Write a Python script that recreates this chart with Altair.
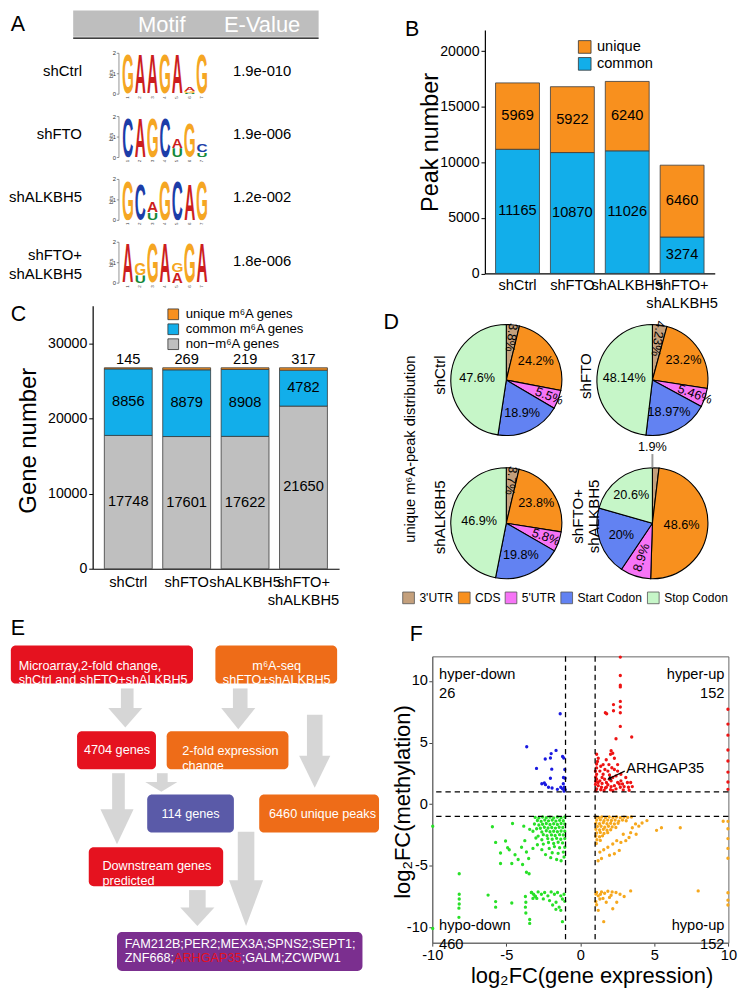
import base64
import altair as alt

S = 0.978


def s(v):
    return round(v * S, 3)


FONT = "Liberation Sans"

# ===================== values =====================
SAMPLES = ["shCtrl", "shFTO", "shALKBH5", "shFTO+shALKBH5"]

PEAK_TYPES = ["unique", "common"]
PEAK_UNIQUE = [5969, 5922, 6240, 6460]
PEAK_COMMON = [11165, 10870, 11026, 3274]
PEAK_TICKS = [0, 5000, 10000, 15000, 20000]

GENE_TYPES = ["unique m⁶A genes", "common m⁶A genes", "non−m⁶A genes"]
GENE_UNIQUE = [145, 269, 219, 317]
GENE_COMMON = [8856, 8879, 8908, 4782]
GENE_NON = [17748, 17601, 17622, 21650]
GENE_TICKS = [0, 10000, 20000, 30000]

MOTIF_ROWS = ["shCtrl", "shFTO", "shALKBH5", "shFTO+\nshALKBH5"]
MOTIF_EVALUES = ["1.9e-010", "1.9e-006", "1.2e-002", "1.8e-006"]
# letter stacks for each motif position, bottom -> top, (letter, bits)
MOTIF_SHCTRL = [[("G", 2.0)], [("A", 2.0)], [("A", 2.0)], [("G", 2.0)], [("A", 2.0)],
                [("U", 0.06), ("G", 0.1), ("A", 0.2)], [("G", 2.0)]]
MOTIF_SHFTO = [[("C", 2.0)], [("A", 2.0)], [("G", 2.0)], [("C", 2.0)],
               [("U", 0.45), ("A", 0.5)], [("G", 1.75)], [("U", 0.24), ("C", 0.43)]]
MOTIF_SHALKBH5 = [[("G", 2.0)], [("C", 1.8)], [("U", 0.38), ("A", 0.57)], [("G", 2.0)],
                  [("C", 2.0)], [("A", 1.85)], [("G", 2.0)]]
MOTIF_DOUBLE = [[("A", 2.0)], [("U", 0.38), ("G", 0.62)], [("G", 2.0)], [("A", 2.0)],
                [("A", 0.55), ("G", 0.45)], [("G", 2.0)], [("A", 2.0)]]
MOTIF_BITS_TICKS = [0, 1, 2]

REGIONS = ["3'UTR", "CDS", "5'UTR", "Start Codon", "Stop Codon"]
PIE_NAMES = ["shCtrl", "shFTO", "shALKBH5", "shFTO+\nshALKBH5"]
PIE_SHCTRL = [3.8, 24.2, 5.5, 18.9, 47.6]
PIE_SHFTO = [4.23, 23.2, 5.46, 18.97, 48.14]
PIE_SHALKBH5 = [3.7, 23.8, 5.8, 19.8, 46.9]
PIE_DOUBLE = [1.9, 48.6, 8.9, 20, 20.6]

FLOW_TEXTS = ["Microarray,2-fold change,\nshCtrl and shFTO+shALKBH5", "m⁶A-seq\nshFTO+shALKBH5",
              "4704 genes", "2-fold expression\nchange", "114 genes", "6460 unique peaks",
              "Downstream genes\npredicted"]
FLOW_GENES_1 = "FAM212B;PER2;MEX3A;SPNS2;SEPT1;"
FLOW_GENES_2 = ["ZNF668;", "ARHGAP35", ";GALM;ZCWPW1"]

QUADRANTS = ["hyper-down", "hyper-up", "hypo-down", "hypo-up"]
QUADRANT_COUNTS = [26, 152, 460, 152]
FC_THRESHOLDS = [-1, 1]
F_TICKS = [-10, -5, 0, 5, 10]
HYPER_DOWN = [(-1.36, 7.34), (-3.62, 4.66), (-1.97, 4.10), (-1.64, 4.36), (-2.37, 3.66), (-2.02, 3.74),
              (-1.20, 3.87), (-1.12, 3.75), (-2.96, 2.90), (-1.93, 2.84), (-1.05, 2.81), (-1.14, 2.16),
              (-1.03, 2.10), (-2.02, 2.10), (-2.43, 1.71), (-2.35, 1.58), (-2.15, 1.37), (-1.91, 1.31),
              (-1.32, 1.37), (-1.08, 1.37), (-1.02, 1.16), (-1.20, 1.24), (-1.55, 1.20), (-1.15, 1.65),
              (-2.60, 1.65), (-1.10, 1.05)]
HYPER_UP = [(2.70, 11.94), (2.70, 10.45), (2.70, 9.66), (2.70, 9.52), (2.24, 8.08), (2.70, 8.34), (2.70, 7.89),
            (1.69, 7.42), (1.78, 7.34), (2.24, 7.58), (2.70, 7.42), (2.70, 6.31), (3.47, 5.45), (2.41, 5.31),
            (2.08, 4.34), (2.04, 4.05), (2.19, 4.13), (1.10, 4.05), (1.16, 3.47), (1.10, 3.26), (1.75, 3.60),
            (2.30, 3.73), (1.93, 3.21), (2.13, 2.95), (1.66, 2.81), (1.32, 2.68), (2.30, 2.81), (2.52, 3.21),
            (1.02, 2.68), (1.10, 2.42), (1.54, 2.42), (1.97, 2.36), (2.41, 2.29), (2.74, 2.42), (3.07, 2.16),
            (1.10, 2.02), (1.32, 1.89), (1.64, 2.02), (2.08, 1.89), (2.52, 1.76), (2.85, 1.63), (3.25, 1.37),
            (3.51, 1.42), (1.02, 1.60), (1.21, 1.50), (1.47, 1.68), (1.86, 1.57), (2.30, 1.50), (2.70, 1.37),
            (2.96, 1.42), (1.10, 1.24), (1.38, 1.16), (1.69, 1.31), (2.04, 1.16), (2.41, 1.24), (1.10, 2.94),
            (1.38, 3.08), (1.20, 1.76), (1.76, 1.76), (2.19, 2.16), (1.47, 2.16), (1.86, 2.68), (2.52, 2.68),
            (2.74, 1.89), (3.18, 1.76), (1.54, 3.21), (1.21, 3.73), (1.76, 1.37), (1.43, 1.37), (1.04, 1.84),
            (1.04, 2.20), (1.97, 2.02), (2.63, 1.63), (3.40, 1.76), (2.08, 1.42), (1.05, 1.08), (1.60, 1.10),
            (2.20, 1.08), (2.90, 1.15), (3.30, 1.12), (9.97, 7.7), (9.97, 6.5), (9.97, 5.6), (9.97, 4.4),
            (9.97, 3.5), (9.97, 2.6), (9.97, 1.8), (9.97, 1.2)]
HYPO_DOWN = [(-1.05, -1.05), (-1.3, -1.1), (-1.55, -1.05), (-1.8, -1.12), (-2.05, -1.06), (-2.3, -1.1),
             (-2.55, -1.05), (-2.8, -1.12), (-3.05, -1.08), (-1.15, -1.35), (-1.4, -1.32), (-1.65, -1.38),
             (-1.9, -1.3), (-2.15, -1.36), (-2.4, -1.3), (-2.65, -1.4), (-2.9, -1.33), (-1.05, -1.62),
             (-1.3, -1.58), (-1.55, -1.65), (-1.8, -1.6), (-2.05, -1.66), (-2.3, -1.58), (-2.55, -1.64),
             (-2.8, -1.7), (-3.1, -1.62), (-1.18, -1.9), (-1.43, -1.88), (-1.68, -1.95), (-1.93, -1.9),
             (-2.18, -1.94), (-2.43, -1.88), (-2.7, -1.96), (-2.95, -2.0), (-1.05, -2.2), (-1.3, -2.18),
             (-1.55, -2.25), (-1.8, -2.2), (-2.05, -2.24), (-2.3, -2.16), (-2.6, -2.26), (-3.2, -2.2),
             (-1.15, -2.5), (-1.4, -2.48), (-1.7, -2.55), (-1.95, -2.5), (-2.25, -2.56), (-2.5, -2.48),
             (-2.85, -2.6), (-1.05, -2.8), (-1.32, -2.85), (-1.6, -2.78), (-1.9, -2.86), (-2.2, -2.8),
             (-2.6, -2.9), (-3.0, -2.75), (-1.2, -3.15), (-1.5, -3.1), (-1.8, -3.2), (-2.15, -3.12),
             (-2.5, -3.25), (-2.9, -3.3), (-1.05, -3.5), (-1.4, -3.55), (-1.75, -3.45), (-2.1, -3.6),
             (-2.6, -3.7), (-3.2, -3.6), (-1.15, -3.9), (-1.5, -4.0), (-1.9, -3.95), (-2.35, -4.1),
             (-1.1, -4.3), (-1.6, -4.5), (-2.0, -4.35), (-1.3, -4.6),
             (-5.94, -1.84), (-4.58, -1.58), (-5.72, -3.11), (-5.39, -3.97), (-4.91, -3.55), (-4.80, -3.71),
             (-4.41, -4.11), (-5.39, -4.82), (-4.63, -4.82), (-3.97, -3.50), (-3.82, -1.79), (-3.42, -2.05),
             (-3.75, -2.97), (-3.64, -3.89), (-3.49, -4.42), (-3.64, -5.53), (-3.46, -5.66), (-8.18, -5.66),
             (-8.18, -7.32), (-8.18, -7.71), (-8.18, -8.11), (-8.2, -8.45), (-8.2, -9.2), (-6.23, -7.39),
             (-5.72, -7.92), (-5.72, -8.37), (-4.63, -8.03), (-3.71, -7.50), (-3.68, -7.97), (-3.71, -8.37),
             (-3.68, -8.84), (-3.42, -9.37), (-3.42, -9.69), (-3.31, -7.18), (-3.16, -7.32), (-3.03, -7.50),
             (-2.94, -7.66), (-3.20, -7.66), (-9.97, -1.8), (-9.97, -10.1), (-4.2, -4.5), (-3.9, -4.9),
             (-5.05, -3.0), (-3.29, -7.18), (-3.07, -7.45), (-2.85, -7.13), (-2.63, -7.32), (-2.41, -7.18),
             (-2.19, -7.45), (-1.97, -7.13), (-1.75, -7.32), (-1.54, -7.18), (-1.32, -7.45), (-1.1, -7.32),
             (-2.08, -7.84), (-1.64, -7.97), (-1.21, -7.71), (-1.43, -8.37), (-1.65, -8.55), (-1.32, -8.63),
             (-1.21, -9.55), (-1.87, -8.2), (-2.5, -7.7), (-1.05, -7.9)]
HYPO_UP = [(1.05, -1.05), (1.25, -1.08), (1.45, -1.05), (1.7, -1.1), (1.95, -1.05), (2.2, -1.08),
           (2.45, -1.05), (2.7, -1.1), (2.95, -1.06), (3.2, -1.08), (3.45, -1.05), (1.1, -1.3), (1.35, -1.28),
           (1.6, -1.35), (1.85, -1.3), (2.1, -1.33), (2.35, -1.3), (2.6, -1.38), (2.85, -1.3), (3.1, -1.35),
           (1.05, -1.55), (1.3, -1.6), (1.55, -1.52), (1.8, -1.6), (2.05, -1.55), (2.3, -1.62), (2.55, -1.55),
           (1.15, -1.82), (1.4, -1.8), (1.65, -1.88), (1.9, -1.8), (2.15, -1.85), (2.4, -1.9), (1.05, -2.05),
           (1.3, -2.1), (1.55, -2.05), (1.8, -2.12), (2.05, -2.08), (1.1, -2.35), (1.35, -2.3), (1.6, -2.38),
           (1.85, -2.32), (1.05, -2.6), (1.3, -2.65), (1.5, -2.58), (1.12, -2.9), (1.35, -2.95), (1.08, -3.2),
           (4.50, -1.34), (5.15, -2.13), (5.48, -1.92), (6.75, -1.92), (9.65, -1.39), (3.95, -1.79),
           (3.77, -2.45), (3.40, -2.32), (3.29, -2.71), (3.07, -2.97), (2.74, -3.11), (2.63, -3.76),
           (2.30, -4.03), (1.97, -4.16), (1.43, -4.42), (1.32, -3.90), (1.58, -3.71), (1.86, -3.50),
           (2.19, -3.24), (2.46, -2.97), (3.51, -1.92), (4.17, -1.53), (2.90, -2.45), (3.73, -1.61),
           (1.2, -4.6), (1.10, -7.18), (1.21, -7.45), (1.43, -7.13), (1.64, -7.24), (1.86, -7.08),
           (2.15, -7.13), (2.41, -7.18), (2.68, -7.32), (2.96, -7.50), (3.40, -7.05), (1.32, -7.71),
           (1.53, -7.66), (1.97, -7.58), (2.46, -7.97), (2.19, -8.50), (1.21, -8.63), (1.05, -7.92),
           (1.10, -8.18), (1.75, -7.97), (1.58, -9.55), (7.96, -7.05), (1.36, -7.32), (2.08, -7.40),
           (1.05, -7.3), (9.97, -1.4), (9.97, -2.0), (9.97, -2.8), (9.97, -3.6), (9.97, -4.4),
           (9.97, -7.2), (9.97, -7.8), (9.97, -8.2)]
ARHGAP35_POINT = (1.95, 2.08)

# ===================== styles and layout =====================
ORANGE = "#F8901E"
BLUE = "#12AEEA"
GRAY = "#BFBFBF"
LETTER_COLORS = {"A": "#CC1E1E", "C": "#1C3DA8", "G": "#F5A623", "U": "#15893A"}
REGION_COLORS = ["#C4A07C", "#F8901E", "#F674F6", "#6282F2", "#C6F6C8"]
QUAD_COLORS = ["#1A1AE0", "#EE1414", "#28E028", "#F6A81E"]
FLOW_KINDS = ["red", "orange", "blue", "purple"]
FLOW_COLORS = ["#E5121F", "#EE6C18", "#5A5AA8", "#7B2F8F"]
ARROW_GRAY = "#D6D6D6"


def LX(field, dom):
    return alt.X(field, type="quantitative", scale=alt.Scale(domain=dom, nice=False, zero=False), axis=None)


def LY(field, dom):
    return alt.Y(field, type="quantitative",
                 scale=alt.Scale(domain=dom, nice=False, zero=False, reverse=True), axis=None)


def ltext(rows, dx, dy, size, align="left", color="black", angle=0, line_height=None):
    mk = dict(align=align, baseline="middle", fontSize=s(size), color=color, angle=angle, lineBreak="\n")
    if line_height:
        mk["lineHeight"] = s(line_height)
    return alt.Chart(alt.Data(values=rows)).mark_text(**mk).encode(
        x=LX("x", dx), y=LY("y", dy), text="t:N")


def lrules(rows, dx, dy, color="black", width=1.0):
    return alt.Chart(alt.Data(values=rows)).mark_rule(color=color, strokeWidth=width).encode(
        x=LX("x1", dx), x2=alt.X2("x2"), y=LY("y1", dy), y2=alt.Y2("y2"))


def lframe(x1, x2, y1, y2, dx, dy):
    # invisible rectangle covering the panel's share of the figure
    return alt.Chart(alt.Data(values=[{"x1": x1, "x2": x2, "y1": y1, "y2": y2}])).mark_rect(opacity=0).encode(
        x=LX("x1", dx), x2=alt.X2("x2"), y=LY("y1", dy), y2=alt.Y2("y2"))


def frame(x0, x1, y0, y1):
    return alt.Chart(alt.Data(values=[{"f": 0}])).mark_rect(opacity=0).encode(
        x=alt.value(s(x0)), x2=alt.value(s(x1)), y=alt.value(s(y0)), y2=alt.value(s(y1)))


def ptext(text, x, y, size, align="left", angle=0, color="black", line_height=None):
    mk = dict(align=align, baseline="middle", fontSize=s(size), angle=angle, color=color, lineBreak="\n")
    if line_height:
        mk["lineHeight"] = s(line_height)
    return alt.Chart(alt.Data(values=[{"t": text}])).mark_text(**mk).encode(
        x=alt.value(s(x)), y=alt.value(s(y)), text="t:N")


def letter_uri(ch, color):
    svg = ('<svg xmlns="http://www.w3.org/2000/svg" width="78" height="75" viewBox="-3 -73.5 78 75" '
           'preserveAspectRatio="none"><text x="36" y="0" text-anchor="middle" '
           'font-family="Liberation Sans, Arial, sans-serif" font-weight="bold" font-size="100" '
           f'fill="{color}">{ch}</text></svg>')
    return "data:image/svg+xml;base64," + base64.b64encode(svg.encode("utf-8")).decode("ascii")


# ----------------------------- panel A -----------------------------
# plot origin placed at figure (86, 20) so that it lines up with panels C (x) and B (y)
AXD, AYD = [86, 380], [20, 300]
LOGO_X0, LOGO_STEP, LOGO_W, BIT_PX = 116.0, 12.7, 12.3, 21.0
LOGO_BASES = [86, 151, 215.5, 280]
ROW_Y = [63, 128, 193, 252]
EVAL_Y = [63, 128, 193, 258]

logo_rows = []
for r, motif in enumerate([MOTIF_SHCTRL, MOTIF_SHFTO, MOTIF_SHALKBH5, MOTIF_DOUBLE]):
    for p, col in enumerate(motif):
        for o, (letter, bits) in enumerate(col):
            logo_rows.append({"row": r, "pos": p, "ord": o, "letter": letter, "bits": bits,
                              "url": letter_uri(letter, LETTER_COLORS[letter])})
base_expr = "[" + ",".join(str(b) for b in LOGO_BASES) + "][datum.row]"
a_logo = alt.Chart(alt.Data(values=logo_rows)).transform_window(
    cum="sum(bits)", groupby=["row", "pos"], sort=[alt.SortField("ord")], frame=[None, 0]
).transform_calculate(
    base=base_expr,
    lx1=f"{LOGO_X0} + {LOGO_STEP} * datum.pos",
    lx2=f"{LOGO_X0} + {LOGO_STEP} * datum.pos + {LOGO_W}",
).transform_calculate(
    ly1=f"datum.base - datum.cum * {BIT_PX}",
    ly2=f"datum.base - (datum.cum - datum.bits) * {BIT_PX}",
).mark_image(aspect=False).encode(
    x=LX("lx1", AXD), x2=alt.X2("lx2"), y=LY("ly1", AYD), y2=alt.Y2("ly2"), url=alt.Url("url:N"))

ax_rows, tk_rows, tl_rows, bits_rows, num_rows = [], [], [], [], []
for b in LOGO_BASES:
    ax_rows.append({"x1": 113, "x2": 113, "y1": b - 2 * BIT_PX, "y2": b})
    for k in MOTIF_BITS_TICKS:
        tk_rows.append({"x1": 110.8, "x2": 113, "y1": b - k * BIT_PX, "y2": b - k * BIT_PX})
        tl_rows.append({"x": 110, "y": b - k * BIT_PX, "t": str(k)})
    bits_rows.append({"x": 104.5, "y": b - BIT_PX, "t": "bits"})
    for p in range(7):
        num_rows.append({"x": LOGO_X0 + LOGO_STEP * p + LOGO_W / 2, "y": b + 3.5, "t": str(p + 1)})

panel_a = alt.layer(
    lframe(0, 380, 0, 300, AXD, AYD),
    alt.Chart(alt.Data(values=[{"x1": 66, "x2": 318, "y1": 0, "y2": 27}])).mark_rect(color="#BEBEBE").encode(
        x=LX("x1", AXD), x2=alt.X2("x2"), y=LY("y1", AYD), y2=alt.Y2("y2")),
    lrules([{"x1": 66, "x2": 318, "y1": 28.5, "y2": 28.5}], AXD, AYD, width=s(1.4)),
    ltext([{"x": 157, "y": 14.5, "t": "Motif"}, {"x": 260, "y": 14.5, "t": "E-Value"}], AXD, AYD, 22.5,
          align="center", color="white"),
    ltext([{"x": 2, "y": 15, "t": "A"}], AXD, AYD, 22),
    ltext([{"x": 75, "y": ROW_Y[i], "t": MOTIF_ROWS[i]} for i in range(4)], AXD, AYD, 15.3, align="right",
          line_height=20),
    ltext([{"x": 230, "y": EVAL_Y[i], "t": MOTIF_EVALUES[i]} for i in range(4)], AXD, AYD, 15.2),
    lrules(ax_rows, AXD, AYD, color="#666", width=0.7),
    lrules(tk_rows, AXD, AYD, color="#666", width=0.7),
    ltext(tl_rows, AXD, AYD, 6, align="right", color="#333"),
    ltext(bits_rows, AXD, AYD, 5.5, align="center", color="#333", angle=270),
    ltext(num_rows, AXD, AYD, 4.5, align="center", color="#333", angle=270),
    a_logo,
).properties(width=s(294), height=s(280))

# ----------------------------- panel B -----------------------------
# plot origin at figure (433, 20) so that it lines up with panel F; bars drawn in 487..723
b_rows = []
for i, smp in enumerate(SAMPLES):
    b_rows.append({"sample": smp, "type": "common", "value": PEAK_COMMON[i], "ord": 0})
    b_rows.append({"sample": smp, "type": "unique", "value": PEAK_UNIQUE[i], "ord": 1})
b_base = alt.Chart(alt.Data(values=b_rows)).transform_window(
    cum="sum(value)", groupby=["sample"], sort=[alt.SortField("ord")], frame=[None, 0]
).transform_calculate(lo="datum.cum - datum.value", mid="datum.cum - datum.value / 2")

LABEL_EXPR = "datum.label == 'shFTO+shALKBH5' ? ['shFTO+', 'shALKBH5'] : datum.label"
b_xscale = alt.Scale(range=[s(54), s(290)], paddingInner=0.2, paddingOuter=0.195)
b_yscale = alt.Scale(domain=[0, 21900], nice=False, zero=True)
B_XAXIS = alt.Axis(title=None, labelAngle=0, labelExpr=LABEL_EXPR, labelFontSize=s(15),
                   labelLineHeight=s(18), ticks=False, labelPadding=s(4.5), domainColor="black",
                   domainWidth=1.2)
B_YAXIS = alt.Axis(values=PEAK_TICKS, format="d", offset=-s(54), title="Peak number", titleFontSize=s(24),
                   titleX=s(-56), titleY=s(115), titleAngle=270, titleAlign="center", titleBaseline="middle",
                   labelFontSize=s(14.5), tickSize=s(4), labelPadding=s(2), grid=False,
                   domainColor="black", tickColor="black", domainWidth=1.2)
b_bars = b_base.mark_bar(stroke="#3a3a3a", strokeWidth=0.8).encode(
    x=alt.X("sample:N", sort=SAMPLES, scale=b_xscale, axis=B_XAXIS),
    y=alt.Y("lo:Q", scale=b_yscale, axis=B_YAXIS),
    y2="cum:Q",
    color=alt.Color("type:N", scale=alt.Scale(domain=PEAK_TYPES, range=[ORANGE, BLUE]),
                    legend=alt.Legend(orient="none", legendX=s(149), legendY=s(10), title=None,
                                      symbolType="square", symbolSize=s(13) ** 2, labelFontSize=s(15),
                                      symbolStrokeColor="#333", symbolStrokeWidth=0.8, rowPadding=0,
                                      labelOffset=s(5), padding=0)),
)
b_text = b_base.mark_text(fontSize=s(15), color="black").encode(
    x=alt.X("sample:N", sort=SAMPLES, scale=b_xscale, axis=B_XAXIS),
    y=alt.Y("mid:Q", scale=b_yscale, axis=B_YAXIS),
    text=alt.Text("value:Q", format="d"))
panel_b = alt.layer(
    frame(-53, 321, -20, 289), b_bars, b_text, ptext("B", -28, 0, 22)
).properties(width=s(290), height=s(250))

# ----------------------------- panel C -----------------------------
c_rows = []
for i, smp in enumerate(SAMPLES):
    c_rows.append({"sample": smp, "type": GENE_TYPES[2], "value": GENE_NON[i], "ord": 0})
    c_rows.append({"sample": smp, "type": GENE_TYPES[1], "value": GENE_COMMON[i], "ord": 1})
    c_rows.append({"sample": smp, "type": GENE_TYPES[0], "value": GENE_UNIQUE[i], "ord": 2})
c_base = alt.Chart(alt.Data(values=c_rows)).transform_window(
    cum="sum(value)", groupby=["sample"], sort=[alt.SortField("ord")], frame=[None, 0]
).transform_calculate(lo="datum.cum - datum.value", mid="datum.cum - datum.value / 2")
c_xscale = alt.Scale(paddingInner=0.18, paddingOuter=0.2)
c_yscale = alt.Scale(domain=[0, 35000], nice=False, zero=True)
C_XAXIS = alt.Axis(title=None, labelAngle=0, labelExpr=LABEL_EXPR, labelFontSize=s(15),
                   labelLineHeight=s(18), ticks=False, labelPadding=s(6), domainColor="black",
                   domainWidth=1.2)
C_YAXIS = alt.Axis(values=GENE_TICKS, format="d", title="Gene number", titleFontSize=s(24.5), titleX=s(-66),
                   titleY=s(138), titleAngle=270, titleAlign="center", titleBaseline="middle",
                   labelFontSize=s(14.5), tickSize=s(4), labelPadding=s(2), grid=False,
                   domainColor="black", tickColor="black", domainWidth=1.2)
c_bars = c_base.mark_bar(stroke="#3a3a3a", strokeWidth=0.8).encode(
    x=alt.X("sample:N", sort=SAMPLES, scale=c_xscale, axis=C_XAXIS),
    y=alt.Y("lo:Q", scale=c_yscale, axis=C_YAXIS),
    y2="cum:Q",
    color=alt.Color("type:N", scale=alt.Scale(domain=GENE_TYPES, range=[ORANGE, BLUE, GRAY]),
                    legend=alt.Legend(orient="none", legendX=s(76), legendY=s(2), title=None,
                                      symbolType="square", symbolSize=s(11) ** 2, labelFontSize=s(13.5),
                                      symbolStrokeColor="#333", symbolStrokeWidth=0.8, rowPadding=0,
                                      labelOffset=s(6), padding=0)),
)
c_text_mid = c_base.transform_filter("datum.ord < 2").mark_text(fontSize=s(15), color="black").encode(
    x=alt.X("sample:N", sort=SAMPLES, scale=c_xscale, axis=C_XAXIS),
    y=alt.Y("mid:Q", scale=c_yscale, axis=C_YAXIS),
    text=alt.Text("value:Q", format="d"))
c_text_top = c_base.transform_filter("datum.ord == 2").mark_text(
    fontSize=s(15), color="black", baseline="bottom", dy=-s(0.5)).encode(
    x=alt.X("sample:N", sort=SAMPLES, scale=c_xscale, axis=C_XAXIS),
    y=alt.Y("cum:Q", scale=c_yscale, axis=C_YAXIS),
    text=alt.Text("value:Q", format="d"))
panel_c = alt.layer(
    frame(-86, 294, -1, 311), c_bars, c_text_mid, c_text_top, ptext("C", -84, 9, 22)
).properties(width=s(253), height=s(270))

# ----------------------------- panel D -----------------------------
DXD, DYD = [433, 754], [309, 612]
PIE_CENTERS = [(509, 376), (659, 376), (509, 523), (659, 523)]
PIE_LABEL_POS = [
    [(44, 97), (36, 0), (47, 21), (38, 0), (30, 0)],
    [(43, 98), (38, 0), (46, 20), (37, 0), (29, 0)],
    [(44, 97), (37, 0), (43, 20), (36, 0), (28, 0)],
    [(None, 0), (30, 0), (37, 288), (34, 0), (36, 0)],
]
d_rows = []
for pi, vals in enumerate([PIE_SHCTRL, PIE_SHFTO, PIE_SHALKBH5, PIE_DOUBLE]):
    cx, cy = PIE_CENTERS[pi]
    for ri, (reg, v) in enumerate(zip(REGIONS, vals)):
        rr, ang = PIE_LABEL_POS[pi][ri]
        d_rows.append({"pie": pi, "region": reg, "ord": ri, "value": v, "cx": cx, "cy": cy,
                       "lbl": "" if rr is None else f"{v:g}%", "lr": s(rr or 0), "la": ang})
d_base = alt.Chart(alt.Data(values=d_rows)).transform_window(
    cum="sum(value)", groupby=["pie"], sort=[alt.SortField("ord")], frame=[None, 0]
).transform_calculate(start="datum.cum - datum.value", mid="datum.cum - datum.value / 2")
theta_scale = alt.Scale(domain=[0, 100], range=[0, 6.283185307179586])
d_arcs = d_base.mark_arc(radius=s(57), stroke="black", strokeWidth=1.1).encode(
    x=LX("cx", DXD), y=LY("cy", DYD),
    theta=alt.Theta("start:Q", scale=theta_scale, stack=None), theta2=alt.Theta2("cum:Q"),
    color=alt.Color("region:N", scale=alt.Scale(domain=REGIONS, range=REGION_COLORS),
                    legend=alt.Legend(orient="none", legendX=s(-31), legendY=s(284), direction="horizontal",
                                      columns=5, title=None, symbolType="square", symbolSize=s(12) ** 2,
                                      labelFontSize=s(12.4), labelOffset=s(4.5), columnPadding=s(3),
                                      labelLimit=120, symbolStrokeColor="#555", symbolStrokeWidth=0.8,
                                      padding=0)),
)
d_labels = d_base.mark_text(fontSize=s(13), color="black").encode(
    x=LX("cx", DXD), y=LY("cy", DYD),
    theta=alt.Theta("mid:Q", scale=theta_scale, stack=None),
    radius=alt.Radius("lr:Q", scale=None),
    angle=alt.Angle("la:Q", scale=None),
    text="lbl:N")
d_names = [{"x": 441, "y": 371, "t": PIE_NAMES[0]}, {"x": 591, "y": 372, "t": PIE_NAMES[1]},
           {"x": 441, "y": 517, "t": PIE_NAMES[2]}, {"x": 583, "y": 516, "t": PIE_NAMES[3]}]
panel_d = alt.layer(
    lframe(380, 754, 309, 612, DXD, DYD),
    d_arcs, d_labels,
    ltext(d_names, DXD, DYD, 15.5, align="center", angle=270, line_height=16),
    ltext([{"x": 411, "y": 447, "t": "unique m⁶A-peak distribution"}], DXD, DYD, 15, align="center",
          angle=270),
    ltext([{"x": 383, "y": 318, "t": "D"}], DXD, DYD, 22),
    lrules([{"x1": 659, "x2": 659, "y1": 452, "y2": 466}], DXD, DYD, color="#9A9A9A", width=s(2)),
    ltext([{"x": 659, "y": 445, "t": f"{PIE_DOUBLE[0]:g}%"}], DXD, DYD, 13, align="center"),
).properties(width=s(321), height=s(303))

# ----------------------------- panel E -----------------------------
EXD, EYD = [86, 380], [612, 999]
FLOW_BOXES = [("red", 2, 189, 649, 688), ("orange", 212, 337, 649, 688), ("red", 70, 151, 737, 776),
              ("orange", 162, 287, 737, 776), ("blue", 142, 231, 802, 841), ("orange", 257, 380, 802, 841),
              ("red", 82, 220, 856, 896), ("purple", 111, 363, 943, 983)]
FLOW_TEXT_POS = [(10, 669.5, "left"), (275, 669.5, "center"), (111, 756.5, "center"), (178, 757.5, "left"),
                 (186.5, 822, "center"), (322, 822, "center"), (96, 875.5, "left")]
FLOW_ARROWS = [(115, 128, 693, 714, 102, 137, 713, 733), (230, 245, 693, 714, 218, 253, 713, 735),
               (306, 322, 720, 763, 298, 330, 762, 795), (106, 119, 780, 818, 94, 128, 817, 853),
               (152, 163, 780, 790, 140, 173, 789, 799), (235, 252, 840, 891, 226, 261, 890, 937),
               (185, 202, 900, 919, 176, 211, 918, 937)]
shaft_rows = [{"x1": a[0], "x2": a[1], "y1": a[2], "y2": a[3]} for a in FLOW_ARROWS]
head_rows = []
for k, a in enumerate(FLOW_ARROWS):
    hx1, hx2, hy1, hy2 = a[4], a[5], a[6], a[7]
    head_rows += [{"a": k, "x": hx1, "t": hy1, "b": hy1}, {"a": k, "x": (hx1 + hx2) / 2, "t": hy1, "b": hy2},
                  {"a": k, "x": hx2, "t": hy1, "b": hy1}]
box_rows = [{"kind": b[0], "x1": b[1], "x2": b[2], "y1": b[3], "y2": b[4]} for b in FLOW_BOXES]
e_layers = [
    lframe(0, 380, 612, 999, EXD, EYD),
    alt.Chart(alt.Data(values=shaft_rows)).mark_rect(color=ARROW_GRAY).encode(
        x=LX("x1", EXD), x2=alt.X2("x2"), y=LY("y1", EYD), y2=alt.Y2("y2")),
    alt.Chart(alt.Data(values=head_rows)).mark_area(color=ARROW_GRAY).encode(
        x=LX("x", EXD), y=LY("t", EYD), y2=alt.Y2("b"), detail="a:N"),
    alt.Chart(alt.Data(values=box_rows)).mark_rect(cornerRadius=s(5)).encode(
        x=LX("x1", EXD), x2=alt.X2("x2"), y=LY("y1", EYD), y2=alt.Y2("y2"),
        color=alt.Color("kind:N", scale=alt.Scale(domain=FLOW_KINDS, range=FLOW_COLORS), legend=None)),
]
for align in ["left", "center"]:
    rows = [{"x": p[0], "y": p[1], "t": t} for t, p in zip(FLOW_TEXTS, FLOW_TEXT_POS) if p[2] == align]
    e_layers.append(ltext(rows, EXD, EYD, 13, align=align, color="white", line_height=15))
e_layers.append(ltext([{"x": 119, "y": 955, "t": FLOW_GENES_1}, {"x": 119, "y": 970, "t": FLOW_GENES_2[0]},
                       {"x": 239, "y": 970, "t": FLOW_GENES_2[2]}], EXD, EYD, 13, color="white"))
e_layers.append(ltext([{"x": 169.5, "y": 970, "t": FLOW_GENES_2[1]}], EXD, EYD, 13, color="#E5121F"))
e_layers.append(ltext([{"x": 2, "y": 632, "t": "E"}], EXD, EYD, 22))
panel_e = alt.layer(*e_layers).properties(width=s(294), height=s(387))

# ----------------------------- panel F -----------------------------
f_rows = []
for q, pts in zip(QUADRANTS, [HYPER_DOWN, HYPER_UP, HYPO_DOWN, HYPO_UP]):
    f_rows += [{"x": x, "y": y, "q": q} for x, y in pts]
FX = alt.Scale(domain=[-10, 10], nice=False, zero=False)
FY = alt.Scale(domain=[-11.26, 12], nice=False, zero=False)
F_XAXIS = alt.Axis(values=F_TICKS, title="log₂FC(gene expression)", titleFontSize=s(22.5),
                   titleX=s(163.5), titleY=s(33.5), titleAlign="center", titleBaseline="middle",
                   labelFontSize=s(15), tickSize=s(3.5), labelPadding=s(1.5), labelFlush=False,
                   labelExpr="'' + datum.value", grid=False, domainColor="#666", tickColor="#444")
F_YAXIS = alt.Axis(values=F_TICKS, title="log₂FC(methylation)", titleFontSize=s(22.5), titleX=s(-31),
                   titleY=s(149), titleAngle=270, titleAlign="center", titleBaseline="middle",
                   labelFontSize=s(15), tickSize=s(3.5), labelPadding=s(1.5),
                   labelExpr="'' + datum.value", grid=False, domainColor="#666", tickColor="#444")
f_pts = alt.Chart(alt.Data(values=f_rows)).mark_circle(size=s(3.4) ** 2, opacity=1).encode(
    x=alt.X("x:Q", scale=FX, axis=F_XAXIS),
    y=alt.Y("y:Q", scale=FY, axis=F_YAXIS),
    color=alt.Color("q:N", scale=alt.Scale(domain=QUADRANTS, range=QUAD_COLORS), legend=None))
thr = alt.Data(values=[{"v": v} for v in FC_THRESHOLDS])
f_vrules = alt.Chart(thr).mark_rule(color="black", strokeDash=[s(5.5), s(4)], strokeWidth=s(1.3)).encode(
    x=alt.X("v:Q", scale=FX, axis=F_XAXIS))
f_hrules = alt.Chart(thr).mark_rule(color="black", strokeDash=[s(5.5), s(4)], strokeWidth=s(1.3)).encode(
    y=alt.Y("v:Q", scale=FY, axis=F_YAXIS))
quad_text = [f"{q}\n{c}" for q, c in zip(QUADRANTS, QUADRANT_COUNTS)]
ann = alt.Data(values=[{"x1": 3.0, "y1": 2.68, "x2": ARHGAP35_POINT[0], "y2": ARHGAP35_POINT[1],
                        "tx": 3.1, "ty": 2.84, "t": "ARHGAP35"}])
f_ann_line = alt.Chart(ann).mark_rule(color="black", strokeWidth=s(1.2)).encode(
    x=alt.X("x1:Q", scale=FX, axis=F_XAXIS), x2="x2:Q", y=alt.Y("y1:Q", scale=FY, axis=F_YAXIS), y2="y2:Q")
f_ann_head = alt.Chart(ann).mark_point(shape="triangle-up", angle=245, size=s(5) ** 2, filled=True,
                                       color="black", opacity=1).encode(
    x=alt.X("x2:Q", scale=FX, axis=F_XAXIS), y=alt.Y("y2:Q", scale=FY, axis=F_YAXIS))
f_ann_text = alt.Chart(ann).mark_text(align="left", baseline="middle", fontSize=s(15)).encode(
    x=alt.X("tx:Q", scale=FX, axis=F_XAXIS), y=alt.Y("ty:Q", scale=FY, axis=F_YAXIS), text="t:N")
panel_f = alt.layer(
    frame(-53, 321, -46, 341), f_pts, f_vrules, f_hrules, f_ann_line, f_ann_head, f_ann_text,
    ptext(quad_text[0], 7, 19.5, 15, line_height=19), ptext(quad_text[1], 300, 19.5, 15, align="right",
                                                            line_height=19),
    ptext(quad_text[2], 7, 277, 15, line_height=19), ptext(quad_text[3], 300, 277, 15, align="right",
                                                           line_height=19),
    ptext("F", -23, -22, 22)
).properties(width=s(304), height=s(294), view=alt.ViewBackground(stroke="#666", strokeWidth=1))

# ----------------------------- assemble -----------------------------
left = alt.vconcat(panel_a, panel_c, panel_e, spacing=0).resolve_scale(color="independent")
right = alt.vconcat(panel_b, panel_d, panel_f, spacing=0).resolve_scale(color="independent")
chart = alt.hconcat(left, right, spacing=0).resolve_scale(color="independent").properties(
    padding={"left": 0, "top": 0, "right": 0, "bottom": 0}
).configure(font=FONT).configure_view(stroke=None).configure_axis(
    labelFont=FONT, titleFont=FONT, labelColor="black", titleColor="black", titleFontWeight="normal"
).configure_legend(labelFont=FONT, labelColor="black")

chart.save("out.html", embed_options={"renderer": "svg", "actions": False})
